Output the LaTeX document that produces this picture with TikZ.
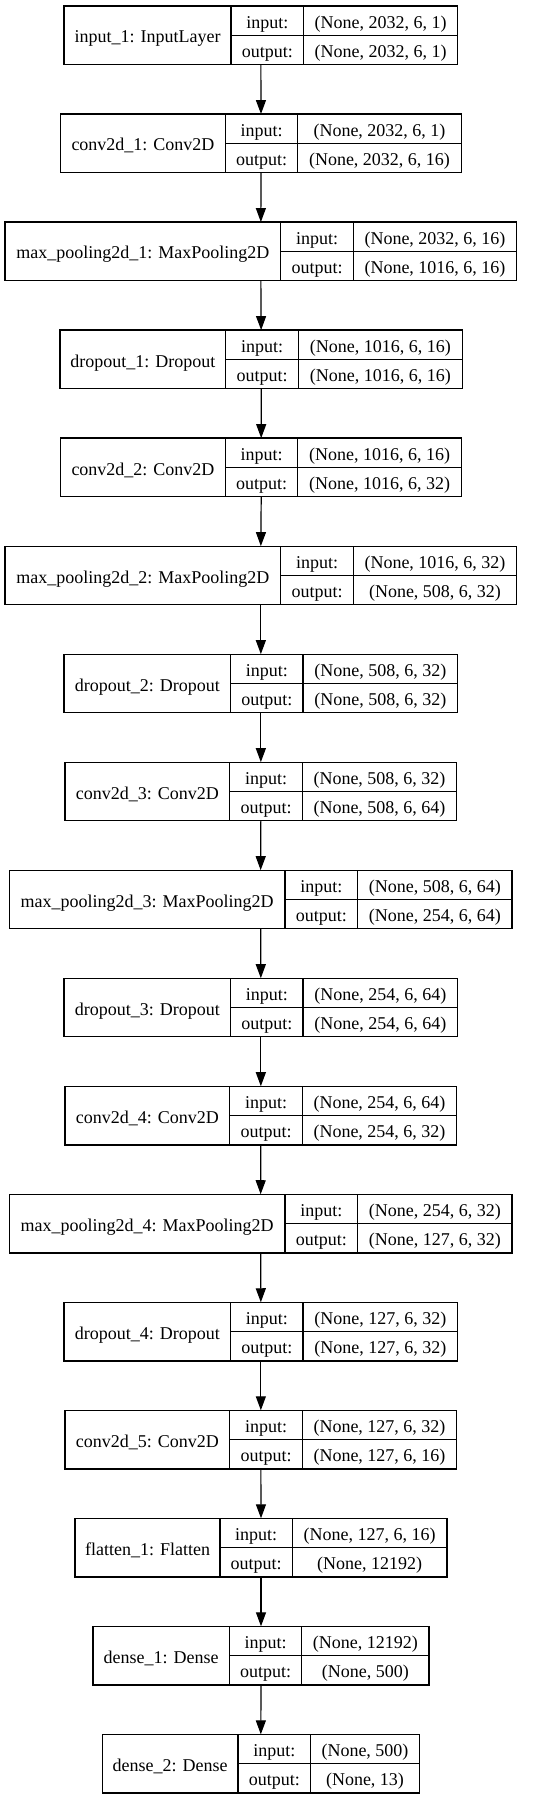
\documentclass[tikz,border=0pt]{standalone}
\usepackage{fontspec}
\setmainfont{Liberation Serif}
\usetikzlibrary{arrows.meta}
\tikzset{
  box/.style={draw=black, line width=1.2pt, inner sep=0pt, outer sep=0pt, minimum height=58.7pt, anchor=north west},
  sep/.style={draw=black, line width=1.2pt},
  txt/.style={font=\fontsize{18pt}{21pt}\selectfont, inner sep=0pt, anchor=base},
  link/.style={draw=black, line width=1.2pt, -{Triangle[length=14pt,width=10pt]}}
}
% #1 index, #2 id, #3 label, #4 in shape, #5 out shape, #6 L, #7 D1, #8 D2, #9 R
\newcommand\layerbox[9]{%
  \pgfmathsetmacro\lyT{6+108.02*#1}%
  \pgfmathsetmacro\lyB{\lyT+58.7}%
  \pgfmathsetmacro\lyM{\lyT+29.35}%
  \node[box, minimum width={#9pt-#6pt}] (#2) at (#6,\lyT) {};
  \draw[sep] (#7,\lyT) -- (#7,\lyB);
  \draw[sep] (#8,\lyT) -- (#8,\lyB);
  \draw[sep] (#7,\lyM) -- (#9,\lyM);
  \node[txt] (#2-name) at ({(#6+#7)/2},{\lyT+29.35+7.6}) {#3};
  \node[txt] (#2-inl) at ({(#7+#8)/2},{\lyT+14.675+7.6}) {input:};
  \node[txt] (#2-outl) at ({(#7+#8)/2},{\lyT+44.025+7.6}) {output:};
  \node[txt] (#2-ins) at ({(#8+#9)/2},{\lyT+14.675+7.6}) {#4};
  \node[txt] (#2-outs) at ({(#8+#9)/2},{\lyT+44.025+7.6}) {#5};
}
\begin{document}
\begin{tikzpicture}[x=1pt,y=-1pt]
\useasboundingbox[fill=white] (0,0) rectangle (535,1799);
\layerbox{0}{l0}{input\_1: InputLayer}{(None, 2032, 6, 1)}{(None, 2032, 6, 1)}{64}{231}{303.7}{457.7}
\layerbox{1}{l1}{conv2d\_1: Conv2D}{(None, 2032, 6, 1)}{(None, 2032, 6, 16)}{60.7}{225.3}{297.7}{461.3}
\layerbox{2}{l2}{max\_pooling2d\_1: MaxPooling2D}{(None, 2032, 6, 16)}{(None, 1016, 6, 16)}{5}{280.7}{353.3}{516.7}
\layerbox{3}{l3}{dropout\_1: Dropout}{(None, 1016, 6, 16)}{(None, 1016, 6, 16)}{60}{225.7}{298.3}{462.3}
\layerbox{4}{l4}{conv2d\_2: Conv2D}{(None, 1016, 6, 16)}{(None, 1016, 6, 32)}{60.7}{225.3}{297.7}{461.7}
\layerbox{5}{l5}{max\_pooling2d\_2: MaxPooling2D}{(None, 1016, 6, 32)}{(None, 508, 6, 32)}{5}{280.7}{353.3}{516.7}
\layerbox{6}{l6}{dropout\_2: Dropout}{(None, 508, 6, 32)}{(None, 508, 6, 32)}{64}{230.7}{303}{457.7}
\layerbox{7}{l7}{conv2d\_3: Conv2D}{(None, 508, 6, 32)}{(None, 508, 6, 64)}{65}{229.7}{302.3}{456.7}
\layerbox{8}{l8}{max\_pooling2d\_3: MaxPooling2D}{(None, 508, 6, 64)}{(None, 254, 6, 64)}{9.3}{285}{357.7}{512}
\layerbox{9}{l9}{dropout\_3: Dropout}{(None, 254, 6, 64)}{(None, 254, 6, 64)}{64}{230.7}{303}{457.7}
\layerbox{10}{l10}{conv2d\_4: Conv2D}{(None, 254, 6, 64)}{(None, 254, 6, 32)}{65}{229.7}{302.3}{456.7}
\layerbox{11}{l11}{max\_pooling2d\_4: MaxPooling2D}{(None, 254, 6, 32)}{(None, 127, 6, 32)}{9.3}{285}{357.7}{512}
\layerbox{12}{l12}{dropout\_4: Dropout}{(None, 127, 6, 32)}{(None, 127, 6, 32)}{64}{230.7}{303}{457.7}
\layerbox{13}{l13}{conv2d\_5: Conv2D}{(None, 127, 6, 32)}{(None, 127, 6, 16)}{65}{229.7}{302.3}{456.7}
\layerbox{14}{l14}{flatten\_1: Flatten}{(None, 127, 6, 16)}{(None, 12192)}{75}{220}{292.3}{447}
\layerbox{15}{l15}{dense\_1: Dense}{(None, 12192)}{(None, 500)}{93}{229.3}{301.7}{429}
\layerbox{16}{l16}{dense\_2: Dense}{(None, 500)}{(None, 13)}{102.3}{238}{310.7}{419.3}
\foreach \a/\b in {l0/l1,l1/l2,l2/l3,l3/l4,l4/l5,l5/l6,l6/l7,l7/l8,l8/l9,l9/l10,l10/l11,l11/l12,l12/l13,l13/l14,l14/l15,l15/l16}
  \draw[link] (\a.south) -- (\b.north);
\end{tikzpicture}
\end{document}
